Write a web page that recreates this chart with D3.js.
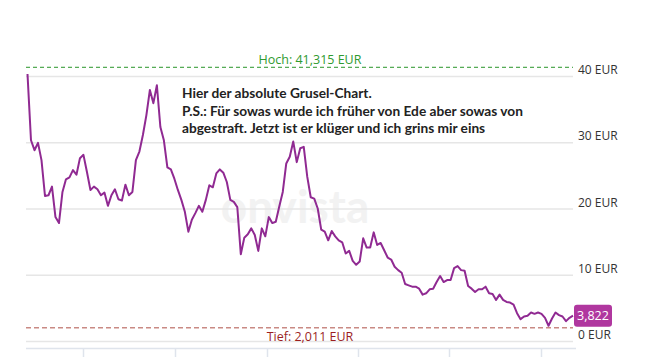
<!DOCTYPE html>
<html><head><meta charset="utf-8">
<script src="https://cdn.jsdelivr.net/npm/d3@7/dist/d3.min.js"></script>
<style>html,body{margin:0;padding:0;background:#fff;overflow:hidden}</style>
</head><body><svg id="c" width="654" height="357"></svg>
<script>
const prices = [40.3,30.3,28.8,29.9,27.3,21.9,22.0,23.3,18.7,17.8,22.5,24.4,24.7,25.8,25.1,27.6,28.1,25.5,22.8,23.3,22.9,22.0,22.4,20.4,22.0,22.9,21.4,21.2,23.6,22.0,
22.5,27.3,28.6,31.1,34.1,37.9,35.9,38.6,32.3,30.3,
26.2,25.9,24.5,22.8,21.3,19.5,16.5,18.3,19.3,
20.4,19.5,21.3,23.5,23.2,25.3,25.9,25.4,24.0,21.3,
21.0,20.2,13.1,15.6,16.1,17.0,16.0,13.6,17.0,15.8,
18.7,17.8,18.0,20.3,22.5,26.8,27.8,30.1,27.0,29.1,
29.3,24.8,21.7,21.5,20.0,16.8,16.5,15.2,16.6,15.8,
15.2,14.9,13.2,13.6,12.1,11.5,12.0,15.5,14.1,14.1,
16.4,14.5,14.8,13.7,12.6,12.3,11.2,10.7,10.3,8.6,
8.4,8.2,8.2,7.9,7.0,7.2,7.8,7.9,8.9,9.8,
8.9,9.2,9.2,11.0,11.3,10.7,10.6,8.3,7.9,7.4,
7.8,7.8,8.2,7.2,7.1,6.2,7.0,6.2,5.9,5.8,
5.5,4.2,3.3,3.7,3.8,4.3,4.1,4.3,4.1,3.5,
2.3,3.4,4.3,3.9,3.7,3.0,3.5,3.822];
const yTicks = [0,10,20,30,40];
const yTickLabels = ["0 EUR","10 EUR","20 EUR","30 EUR","40 EUR"];
const xTicks = [16, 42.2, 68.4, 94.5, 120.6, 146.8];
const high = 41.315, highLabel = "Hoch: 41,315 EUR";
const low = 2.011, lowLabel = "Tief: 2,011 EUR";
const lastLabel = "3,822";
const note = ["Hier der absolute Grusel-Chart.",
  "P.S.: Für sowas wurde ich früher von Ede aber sowas von",
  "abgestraft. Jetzt ist er klüger und ich grins mir eins"];

const svg = d3.select("#c");
const x = d3.scaleLinear().domain([0, prices.length-1]).range([27.5, 573]);
const y = d3.scaleLinear().domain([0, 40]).range([341, 76]);
const L = 26, R = 573;

// watermark
svg.append("text").attr("x", 295).attr("y", 223).attr("text-anchor","middle")
  .attr("font-family","Lato, sans-serif").attr("font-weight","bold").attr("font-size",46)
  .attr("fill","#f2f2f2").text("onvista");

// gridlines
svg.append("g").selectAll("line").data(yTicks).join("line")
  .attr("x1", L).attr("x2", R).attr("y1", d=>y(d)+0.5).attr("y2", d=>y(d)+0.5)
  .attr("stroke","#e6e6e6").attr("stroke-width",1.5);

// right axis labels
svg.append("g").selectAll("text").data(yTicks).join("text")
  .attr("x", 578).attr("y", d=>y(d)-2)
  .attr("font-family","'Open Sans', sans-serif").attr("font-size",12)
  .attr("fill","#333").text((d,i)=>yTickLabels[i]);

// bottom axis
svg.append("line").attr("x1",L).attr("x2",R+3).attr("y1",348.5).attr("y2",348.5)
  .attr("stroke","#dfe4ec").attr("stroke-width",1.5);
svg.append("g").selectAll("line").data(xTicks).join("line")
  .attr("x1", d=>Math.round(x(d))+0.5).attr("x2", d=>Math.round(x(d))+0.5)
  .attr("y1",349).attr("y2",357).attr("stroke","#dfe4ec").attr("stroke-width",1.5);

// high / low lines
svg.append("line").attr("x1",L).attr("x2",R).attr("y1",y(high)).attr("y2",y(high))
  .attr("stroke","#2a962a").attr("stroke-width",1).attr("stroke-dasharray","4,3");
svg.append("text").attr("x",310).attr("y",y(high)-3).attr("text-anchor","middle")
  .attr("font-family","'Open Sans', sans-serif").attr("font-size",12.5)
  .attr("fill","#2f9a2f").text(highLabel);
svg.append("line").attr("x1",L).attr("x2",R).attr("y1",y(low)).attr("y2",y(low))
  .attr("stroke","#c98a84").attr("stroke-width",1.5).attr("stroke-dasharray","5,3");
svg.append("text").attr("x",310).attr("y",y(low)+13).attr("text-anchor","middle")
  .attr("font-family","'Open Sans', sans-serif").attr("font-size",12.5)
  .attr("fill","#9c1f1f").text(lowLabel);

// price line
svg.append("path").datum(prices)
  .attr("d", d3.line().x((d,i)=>x(i)).y(d=>y(d)))
  .attr("fill","none").attr("stroke","#902a92").attr("stroke-width",2)
  .attr("stroke-linejoin","round");

// last value badge
const ly = y(prices[prices.length-1]);
svg.append("rect").attr("x",574).attr("y",ly-11).attr("width",38).attr("height",22)
  .attr("rx",3).attr("fill","#b0379f");
svg.append("text").attr("x",593).attr("y",ly+4.5).attr("text-anchor","middle")
  .attr("font-family","'Open Sans', sans-serif").attr("font-size",12.5)
  .attr("fill","#fff").text(lastLabel);

// annotation
const targets = [188, 341, 303];
const t = svg.append("g");
note.forEach((s,i)=>{
  const el = t.append("text").attr("x",182).attr("y",98+i*17.6)
    .attr("font-family","Lato, sans-serif").attr("font-weight","bold").attr("font-size",14)
    .attr("fill","#222").text(s);
});
// fit font size to measured width of longest line
const w = t.selectAll("text").nodes()[1].getComputedTextLength();
const fs = 14*341/w;
t.selectAll("text").attr("font-size", fs);
</script>
</body></html>
